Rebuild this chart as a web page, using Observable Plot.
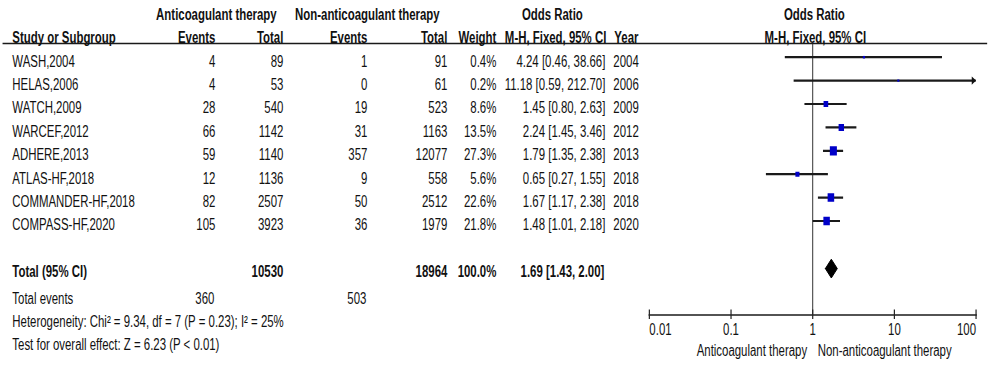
<!DOCTYPE html>
<html>
<head>
<meta charset="utf-8">
<script src="https://cdn.jsdelivr.net/npm/d3@7"></script>
<script src="https://cdn.jsdelivr.net/npm/@observablehq/plot@0.6"></script>
<style>
  html, body { margin: 0; padding: 0; background: #fff; }
  #chart { position: relative; width: 1000px; height: 373px; overflow: hidden; }
  #chart svg { position: absolute; top: 0; }
  #chart svg line, #chart svg path { vector-effect: non-scaling-stroke; }
</style>
</head>
<body>
<div id="chart"></div>
<script>
// ---------- data ----------
const studies   = ["WASH,2004","HELAS,2006","WATCH,2009","WARCEF,2012","ADHERE,2013","ATLAS-HF,2018","COMMANDER-HF,2018","COMPASS-HF,2020"];
const eventsAC  = [4, 4, 28, 66, 59, 12, 82, 105];
const totalAC   = [89, 53, 540, 1142, 1140, 1136, 2507, 3923];
const eventsNon = [1, 0, 19, 31, 357, 9, 50, 36];
const totalNon  = [91, 61, 523, 1163, 12077, 558, 2512, 1979];
const weights   = [0.4, 0.2, 8.6, 13.5, 27.3, 5.6, 22.6, 21.8];
const orEst     = [4.24, 11.18, 1.45, 2.24, 1.79, 0.65, 1.67, 1.48];
const orLow     = [0.46, 0.59, 0.80, 1.45, 1.35, 0.27, 1.17, 1.01];
const orHigh    = [38.66, 212.70, 2.63, 3.46, 2.38, 1.55, 2.38, 2.18];
const years     = [2004, 2006, 2009, 2012, 2013, 2018, 2018, 2020];
const pooledOR  = [1.69, 1.43, 2.00];            // estimate, lower, upper
const pooledTotals = [10530, 18964];            // anticoagulant, non-anticoagulant
const pooledWeight = 100.0;
const totalEvents  = [360, 503];
const heterogeneityText = "Heterogeneity: Chi² = 9.34, df = 7 (P = 0.23); I² = 25%";
const overallText       = "Test for overall effect: Z = 6.23 (P < 0.01)";
const axisTicks  = [0.01, 0.1, 1, 10, 100];
const favourLeft = "Anticoagulant therapy";
const favourRight = "Non-anticoagulant therapy";

// ---------- layout ----------
const S = 0.714;                // horizontal squeeze of the whole figure
const P = v => v / S;           // final px -> plot coordinate
const FONT = "'Liberation Sans', Arial, Helvetica, sans-serif";
const FS = 16;
const INK = "#111";
const yScale = {type: "linear", domain: [0, 12], range: [61, 341.8], axis: null};
const ROW = {total: 9, events: 10, het: 11, test: 12, head1: -2, head2: -1};

const rows = studies.map((name, i) => ({
  i, name, ea: eventsAC[i], ta: totalAC[i], en: eventsNon[i], tn: totalNon[i],
  w: weights[i], or: orEst[i], lo: orLow[i], hi: orHigh[i], year: years[i]
}));
const f2 = d3.format(".2f");
const ciText = (e, l, h) => `${f2(e)} [${f2(l)}, ${f2(h)}]`;
const str = k => d => String(d[k]);

function col(data, y, text, xFinal, anchor, extra = {}) {
  return Plot.text(data, {
    x: () => P(xFinal), y, text, textAnchor: anchor,
    fontSize: FS, fill: INK, ...extra
  });
}

// ---------- table (left part, full width) ----------
const one = [0];
const bold = {fontWeight: "bold"};
const tableMarks = [
  Plot.frame({anchor: "top", stroke: "#1a1a1a", strokeWidth: 1.6}),
  // header row 1
  col(one, () => ROW.head1, () => "Anticoagulant therapy", 216, "middle", bold),
  col(one, () => ROW.head1, () => "Non-anticoagulant therapy", 367, "middle", bold),
  col(one, () => ROW.head1, () => "Odds Ratio", 552, "middle", bold),
  col(one, () => ROW.head1, () => "Odds Ratio", 814, "middle", bold),
  // header row 2
  col(one, () => ROW.head2, () => "Study or Subgroup", 12, "start", bold),
  col(one, () => ROW.head2, () => "Events", 215, "end", bold),
  col(one, () => ROW.head2, () => "Total", 283, "end", bold),
  col(one, () => ROW.head2, () => "Events", 367, "end", bold),
  col(one, () => ROW.head2, () => "Total", 447, "end", bold),
  col(one, () => ROW.head2, () => "Weight", 496, "end", bold),
  col(one, () => ROW.head2, () => "M-H, Fixed, 95% CI", 606, "end", bold),
  col(one, () => ROW.head2, () => "Year", 614, "start", bold),
  col(one, () => ROW.head2, () => "M-H, Fixed, 95% CI", 815, "middle", bold),
  // study rows
  col(rows, "i", "name", 12, "start"),
  col(rows, "i", str("ea"), 215, "end"),
  col(rows, "i", str("ta"), 283, "end"),
  col(rows, "i", str("en"), 367, "end"),
  col(rows, "i", str("tn"), 447, "end"),
  col(rows, "i", d => `${d.w.toFixed(1)}%`, 496, "end"),
  col(rows, "i", d => ciText(d.or, d.lo, d.hi), 605, "end"),
  col(rows, "i", str("year"), 613, "start"),
  // total row
  col(one, () => ROW.total, () => "Total (95% CI)", 12, "start", bold),
  col(one, () => ROW.total, () => String(pooledTotals[0]), 283, "end", bold),
  col(one, () => ROW.total, () => String(pooledTotals[1]), 447, "end", bold),
  col(one, () => ROW.total, () => `${pooledWeight.toFixed(1)}%`, 496, "end", bold),
  col(one, () => ROW.total, () => ciText(...pooledOR), 604, "end", bold),
  // footer
  col(one, () => ROW.events, () => "Total events", 12, "start", {dy: 3}),
  col(one, () => ROW.events, () => String(totalEvents[0]), 214, "end", {dy: 3}),
  col(one, () => ROW.events, () => String(totalEvents[1]), 366, "end", {dy: 3}),
  col(one, () => ROW.het, () => heterogeneityText, 12, "start", {dy: 3}),
  col(one, () => ROW.test, () => overallText, 12, "start", {dy: 3})
];

const style = {fontFamily: FONT, fontSize: FS + "px", background: "transparent", color: INK};

const table = Plot.plot({
  width: P(1000), height: 373,
  marginTop: 43, marginBottom: 20, marginLeft: P(3), marginRight: P(14),
  x: {type: "identity", axis: null},
  y: yScale,
  style,
  marks: tableMarks
});

// ---------- forest plot (right part) ----------
const arrowHead = {
  draw(ctx) { ctx.moveTo(0, 0); ctx.lineTo(-6, -4.2); ctx.lineTo(-6, 4.2); ctx.closePath(); }
};
const DIAMOND_HALF = 0.4;
const diamond = [
  {x: pooledOR[1], y: ROW.total},
  {x: pooledOR[0], y: ROW.total - DIAMOND_HALF},
  {x: pooledOR[2], y: ROW.total},
  {x: pooledOR[0], y: ROW.total + DIAMOND_HALF},
  {x: pooledOR[1], y: ROW.total}
];
const fmtTick = d3.format("~g");
const xMax = axisTicks[axisTicks.length - 1];
const FRAME_TOP = 44, FRAME_BOTTOM = 314.5;
const MARK_DY = -4.3;

const forest = Plot.plot({
  width: P(360), height: 373,
  marginTop: FRAME_TOP, marginBottom: 373 - FRAME_BOTTOM, marginLeft: P(9), marginRight: P(24.3),
  x: {type: "log", domain: [axisTicks[0], xMax], axis: null},
  y: yScale,
  r: {type: "sqrt", domain: [0, d3.max(weights)], range: [0, 4.3]},
  style,
  marks: [
    Plot.ruleX([1], {stroke: "#333", strokeWidth: 1}),
    Plot.frame({anchor: "bottom", stroke: "#1a1a1a", strokeWidth: 1.5}),
    Plot.tickX(axisTicks, {x: d => d, stroke: "#222", strokeWidth: 1.2,
      insetTop: (FRAME_BOTTOM - FRAME_TOP) - 5, insetBottom: -4.5}),
    Plot.ruleY(rows, {y: "i", x1: "lo", x2: "hi", dy: MARK_DY, clip: true, stroke: "#1a1a1a", strokeWidth: 2.2}),
    Plot.dot(rows, {x: "or", y: "i", r: "w", symbol: "square", fill: "#0000c8", stroke: "#0000c8", strokeWidth: 1.6, dy: MARK_DY}),
    Plot.dot(rows.filter(d => d.hi > xMax), {x: () => xMax, y: "i", symbol: arrowHead, r: 4, fill: "#111", stroke: "none", dy: MARK_DY}),
    Plot.line(diamond, {x: "x", y: "y", fill: "#000", stroke: "#000", strokeWidth: 1, dy: -3.5}),
    Plot.text(axisTicks.slice(1, -1), {x: d => d, text: fmtTick, frameAnchor: "bottom", dy: 20, fontSize: FS, fill: INK}),
    Plot.text([axisTicks[0]], {x: d => d, text: fmtTick, frameAnchor: "bottom", dy: 20, fontSize: FS, fill: INK, textAnchor: "start"}),
    Plot.text([xMax], {x: d => d, text: fmtTick, frameAnchor: "bottom", dy: 20, fontSize: FS, fill: INK, textAnchor: "end"}),
    Plot.text([favourLeft], {x: () => 1, text: d => d, frameAnchor: "bottom", dy: 40.5, dx: -P(5.6), textAnchor: "end", fontSize: FS, fill: INK}),
    Plot.text([favourRight], {x: () => 1, text: d => d, frameAnchor: "bottom", dy: 40.5, dx: P(5), textAnchor: "start", fontSize: FS, fill: INK})
  ]
});

function squeeze(svg, finalWidth, left) {
  svg.setAttribute("width", finalWidth);
  svg.setAttribute("height", 373);
  svg.setAttribute("preserveAspectRatio", "none");
  svg.style.width = finalWidth + "px";
  svg.style.height = "373px";
  svg.style.maxWidth = "none";
  svg.style.left = left + "px";
  svg.style.background = "transparent";
}
squeeze(table, 1000, 0);
squeeze(forest, 360, 640);
const chart = document.getElementById("chart");
chart.appendChild(table);
chart.appendChild(forest);
</script>
</body>
</html>
